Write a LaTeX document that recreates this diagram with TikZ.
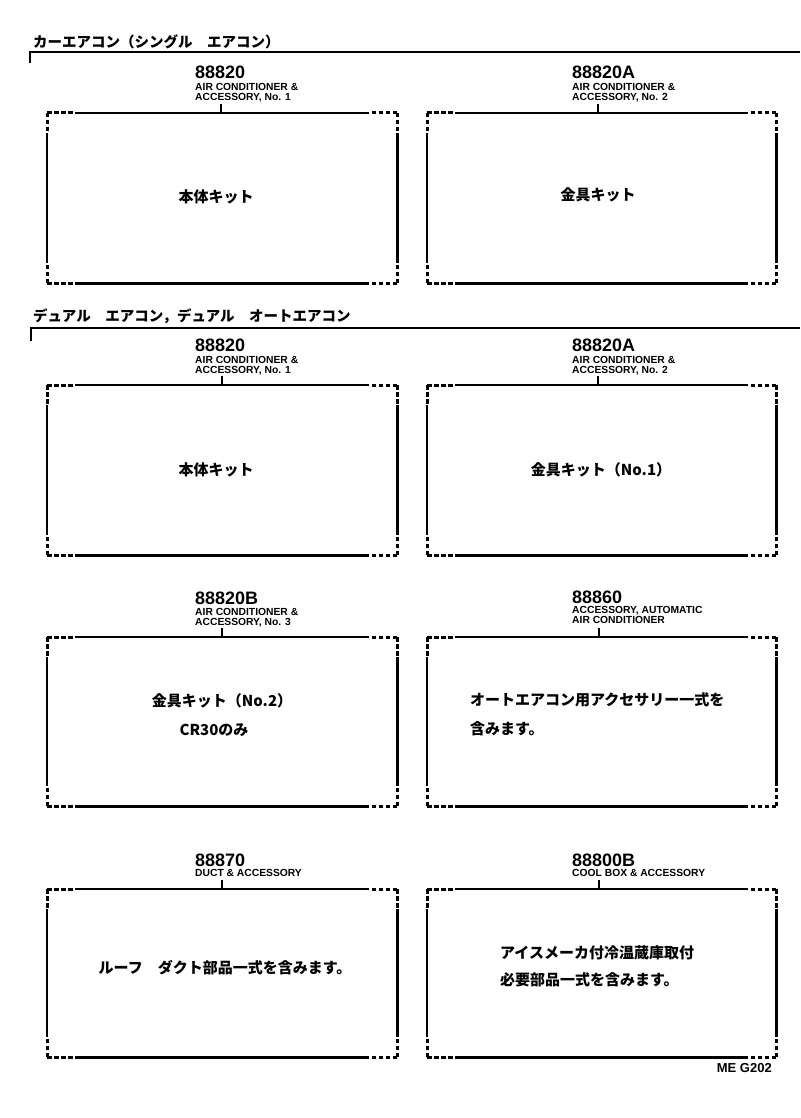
\documentclass[tikz,border=0pt]{standalone}
\usepackage{fontspec}
\setmainfont{Liberation Sans}
\newfontfamily\jp{Noto Sans CJK JP}
\newfontfamily\lat{Liberation Sans}
\newcommand\kitframe[1]{%
  \draw[framesolid] ([xshift=28pt]#1.north west) -- ([xshift=-28pt]#1.north east);
  \draw[framesolid] ([xshift=28pt]#1.south west) -- ([xshift=-28pt]#1.south east);
  \draw[framesolid] ([yshift=-20pt]#1.north west) -- ([yshift=20pt]#1.south west);
  \draw[framesolid] ([yshift=-20pt]#1.north east) -- ([yshift=20pt]#1.south east);
  \draw[framedash] (#1.north west) -- ([xshift=28pt]#1.north west);
  \draw[framedash] (#1.north west) -- ([yshift=-20pt]#1.north west);
  \draw[framedash] (#1.north east) -- ([xshift=-28pt]#1.north east);
  \draw[framedash] (#1.north east) -- ([yshift=-20pt]#1.north east);
  \draw[framedash] (#1.south west) -- ([xshift=28pt]#1.south west);
  \draw[framedash] (#1.south west) -- ([yshift=20pt]#1.south west);
  \draw[framedash] (#1.south east) -- ([xshift=-28pt]#1.south east);
  \draw[framedash] (#1.south east) -- ([yshift=20pt]#1.south east);
}
\begin{document}
\begin{tikzpicture}[x=1pt,y=-1pt,
  kit/.style={draw=none,minimum width=350pt,minimum height=170pt,inner sep=0pt,anchor=north west},
  framesolid/.style={line width=2.2pt},
  framedash/.style={line width=3pt,dash pattern=on 4.5pt off 2.5pt},
  hline/.style={line width=1.6pt},
  tickline/.style={line width=1.3pt},
  num/.style={font=\lat\bfseries\fontsize{18}{18}\selectfont,inner sep=0pt,anchor=west},
  sub/.style={font=\lat\bfseries\fontsize{10.3}{10.5}\selectfont,inner sep=0pt,anchor=north west,align=left},
  jtext/.style={font=\jp\bfseries\fontsize{15}{27}\selectfont,inner sep=0pt},
  header/.style={font=\jp\bfseries\fontsize{14.5}{14.5}\selectfont,inner sep=0pt,anchor=west}]
\useasboundingbox (0,0) rectangle (800,1118);

% section headers
\node[header] (hd1) at (33,42) {カーエアコン（シングル　エアコン）};
\coordinate (h1a) at (30,52);
\coordinate (h1b) at (800,52);
\draw[hline] ([yshift=-11pt]h1a) -- (h1a) -- (h1b);

\node[header] (hd2) at (33,316) {デュアル　エアコン，デュアル　オートエアコン};
\coordinate (h2a) at (31,328);
\coordinate (h2b) at (800,328);
\draw[hline] ([yshift=-13pt]h2a) -- (h2a) -- (h2b);

% boxes
\node[kit] (k1) at (47,113) {};
\node[kit,minimum width=349pt] (k2) at (427,113) {};
\node[kit] (k3) at (47,385) {};
\node[kit,minimum width=349pt] (k4) at (427,385) {};
\node[kit,minimum height=169pt] (k5) at (47,637) {};
\node[kit,minimum width=349pt,minimum height=169pt] (k6) at (427,637) {};
\node[kit,minimum height=168pt] (k7) at (47,889) {};
\node[kit,minimum width=349pt,minimum height=168pt] (k8) at (427,889) {};
\kitframe{k1}\kitframe{k2}\kitframe{k3}\kitframe{k4}
\kitframe{k5}\kitframe{k6}\kitframe{k7}\kitframe{k8}

% labels
\node[num] (n1) at (195,72) {88820};
\node[sub] (s1) at (195,83) {AIR CONDITIONER \&\\ACCESSORY, No. 1};
\node[num] (n2) at (572,72) {88820A};
\node[sub] (s2) at (572,83) {AIR CONDITIONER \&\\ACCESSORY, No. 2};
\node[num] (n3) at (195,345) {88820};
\node[sub] (s3) at (195,356) {AIR CONDITIONER \&\\ACCESSORY, No. 1};
\node[num] (n4) at (572,345) {88820A};
\node[sub] (s4) at (572,356) {AIR CONDITIONER \&\\ACCESSORY, No. 2};
\node[num] (n5) at (195,598) {88820B};
\node[sub] (s5) at (195,608) {AIR CONDITIONER \&\\ACCESSORY, No. 3};
\node[num] (n6) at (572,597) {88860};
\node[sub] (s6) at (572,606) {ACCESSORY, AUTOMATIC\\AIR CONDITIONER};
\node[num] (n7) at (195,860) {88870};
\node[sub] (s7) at (195,869) {DUCT \& ACCESSORY};
\node[num] (n8) at (572,860) {88800B};
\node[sub] (s8) at (572,869) {COOL BOX \& ACCESSORY};

% ticks
\coordinate (t1) at (221,104);
\coordinate (t2) at (598,104);
\coordinate (t3) at (222,376);
\coordinate (t4) at (598,376);
\coordinate (t5) at (222,628);
\coordinate (t6) at (599,628);
\coordinate (t7) at (222,880);
\coordinate (t8) at (599,880);
\draw[tickline] (t1) -- (t1 |- k1.north);
\draw[tickline] (t2) -- (t2 |- k2.north);
\draw[tickline] (t3) -- (t3 |- k3.north);
\draw[tickline] (t4) -- (t4 |- k4.north);
\draw[tickline] (t5) -- (t5 |- k5.north);
\draw[tickline] (t6) -- (t6 |- k6.north);
\draw[tickline] (t7) -- (t7 |- k7.north);
\draw[tickline] (t8) -- (t8 |- k8.north);

% box contents
\node[jtext] (c1) at (216,197) {本体キット};
\node[jtext] (c2) at (598,195) {金具キット};
\node[jtext] (c3) at (216,470) {本体キット};
\node[jtext] (c4) at (601,470) {金具キット（No.1）};
\node[jtext] (c5a) at (222,701) {金具キット（No.2）};
\node[jtext] (c5b) at (214,730) {CR30のみ};
\node[jtext,anchor=west] (c6a) at (470,700) {オートエアコン用アクセサリー一式を};
\node[jtext,anchor=west] (c6b) at (470,729) {含みます。};
\node[jtext] (c7) at (225,968) {ルーフ　ダクト部品一式を含みます。};
\node[jtext,anchor=west] (c8a) at (500,953) {アイスメーカ付冷温蔵庫取付};
\node[jtext,anchor=west] (c8b) at (500,980) {必要部品一式を含みます。};

\node[font=\lat\bfseries\fontsize{13}{13}\selectfont,inner sep=0pt,anchor=east] (code) at (772,1068) {ME G202};
\end{tikzpicture}
\end{document}
